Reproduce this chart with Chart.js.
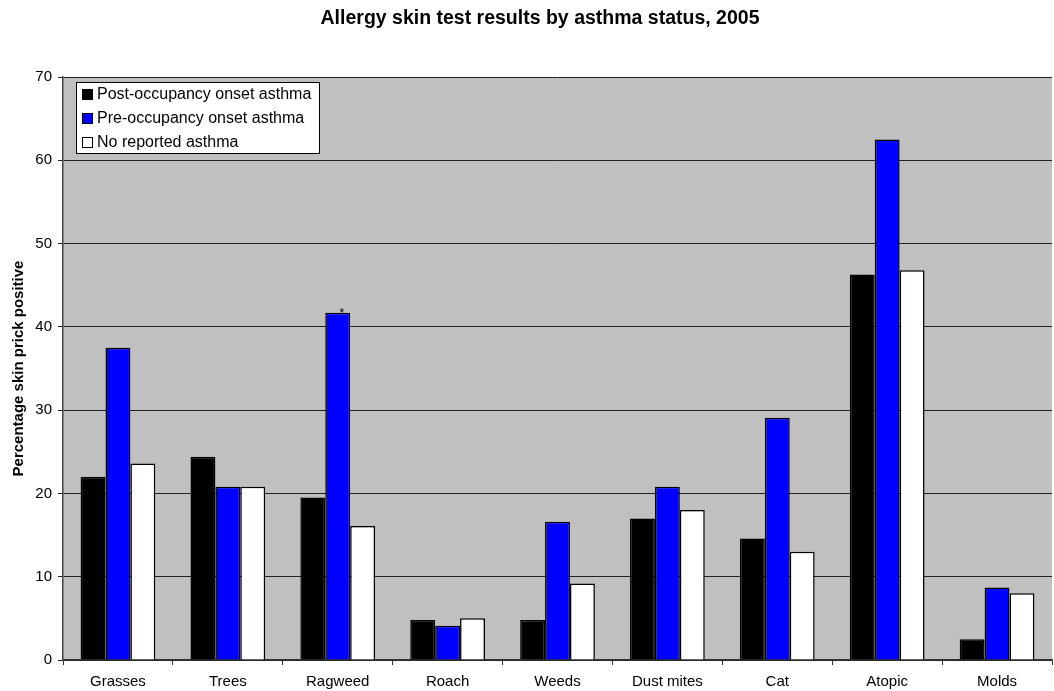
<!DOCTYPE html>
<html>
<head>
<meta charset="utf-8">
<script src="https://cdn.jsdelivr.net/npm/chart.js@4.4.1/dist/chart.umd.min.js"></script>
<style>
html,body{margin:0;padding:0;background:#fff;}
#wrap{width:1054px;height:691px;position:relative;}
</style>
</head>
<body>
<div id="wrap"><canvas id="c" width="1054" height="691"></canvas></div>
<script>
const chartTitle = "Allergy skin test results by asthma status, 2005";
const yAxisTitle = "Percentage skin prick positive";
const categories = ["Grasses","Trees","Ragweed","Roach","Weeds","Dust mites","Cat","Atopic","Molds"];
const postOccupancy = [22.0, 24.4, 19.5, 4.8, 4.8, 17.0, 14.6, 46.3, 2.5];
const preOccupancy  = [37.5, 20.8, 41.7, 4.1, 16.6, 20.8, 29.1, 62.5, 8.7];
const noAsthma      = [23.6, 20.8, 16.1, 5.0, 9.2, 18.0, 13.0, 46.8, 8.0];
const seriesLabels = ["Post-occupancy onset asthma","Pre-occupancy onset asthma","No reported asthma"];
const yTicks = [0,10,20,30,40,50,60,70];
const asterisk = {dataset:1, index:2, text:"*"};

const FONT = 'Arial, "Liberation Sans", sans-serif';

const customPlugin = {
  id:'custom',
  beforeDraw(chart){
    const {ctx, chartArea:a} = chart;
    ctx.save();
    ctx.fillStyle = '#C0C0C0';
    ctx.fillRect(a.left, a.top, a.right-a.left, a.bottom-a.top);
    ctx.restore();
  },
  afterDatasetsDraw(chart){
    const ctx = chart.ctx;
    const el = chart.getDatasetMeta(asterisk.dataset).data[asterisk.index];
    ctx.save();
    ctx.fillStyle='#000';
    ctx.font='12px ' + FONT;
    ctx.textAlign='center';
    ctx.textBaseline='alphabetic';
    ctx.fillText(asterisk.text, el.x + 4, el.y + 4);
    ctx.restore();
  },
  afterDraw(chart){
    const ctx = chart.ctx;
    ctx.save();
    // chart title
    ctx.fillStyle='#000';
    ctx.font='bold 19.5px ' + FONT;
    ctx.textAlign='center';
    ctx.textBaseline='middle';
    ctx.fillText(chartTitle, 540, 19);
    // legend box
    const a = chart.chartArea;
    const x0 = a.left+13, y0 = a.top+5, w = 243, h = 71;
    ctx.fillStyle='#fff';
    ctx.fillRect(x0,y0,w,h);
    ctx.strokeStyle='#000';
    ctx.lineWidth=1;
    ctx.strokeRect(x0+0.5,y0+0.5,w,h);
    ctx.font='16px ' + FONT;
    ctx.textAlign='left';
    ctx.textBaseline='middle';
    chart.data.datasets.forEach((ds,i)=>{
      const cy = y0 + 12 + i*24;
      ctx.fillStyle = ds.backgroundColor;
      ctx.fillRect(x0+6.5, cy-4.5, 10, 10);
      ctx.strokeStyle='#000';
      ctx.strokeRect(x0+6.5, cy-4.5, 10, 10);
      ctx.fillStyle='#000';
      ctx.fillText(ds.label, x0+21, cy+1);
    });
    ctx.restore();
  }
};

const colors = ['#000000','#0000FF','#FFFFFF'];
const dataArrays = [postOccupancy, preOccupancy, noAsthma];

new Chart(document.getElementById('c'), {
  type:'bar',
  data:{
    labels:categories,
    datasets: dataArrays.map((d,i)=>({
      label:seriesLabels[i],
      data:d,
      backgroundColor:colors[i],
      borderColor:'#000',
      borderWidth:1.5,
      barPercentage:1.0,
      categoryPercentage:0.68
    }))
  },
  options:{
    responsive:false,
    animation:false,
    devicePixelRatio:1,
    layout:{padding:{left:0,right:2,top:77,bottom:0}},
    plugins:{
      legend:{display:false},
      tooltip:{enabled:false},
      title:{display:false}
    },
    scales:{
      x:{
        afterFit(scale){ scale.height = 31; },
        grid:{display:true, drawOnChartArea:false, offset:true, color:'#333', tickLength:5},
        border:{display:true, color:'#333', width:1.5},
        ticks:{color:'#000', font:{family:FONT, size:15}, padding:8, maxRotation:0}
      },
      y:{
        min:0, max:70,
        afterFit(scale){ scale.width = 63; },
        afterBuildTicks(scale){ scale.ticks = yTicks.map(v=>({value:v})); },
        grid:{color:'#222', lineWidth:1, tickLength:5},
        border:{display:true, color:'#444', width:1.5},
        ticks:{color:'#000', font:{family:FONT, size:15}, padding:6},
        title:{display:true, text:yAxisTitle, color:'#000',
          font:{family:FONT, size:15, weight:'bold'}, padding:{top:10,bottom:0}}
      }
    }
  },
  plugins:[customPlugin]
});
</script>
</body>
</html>
